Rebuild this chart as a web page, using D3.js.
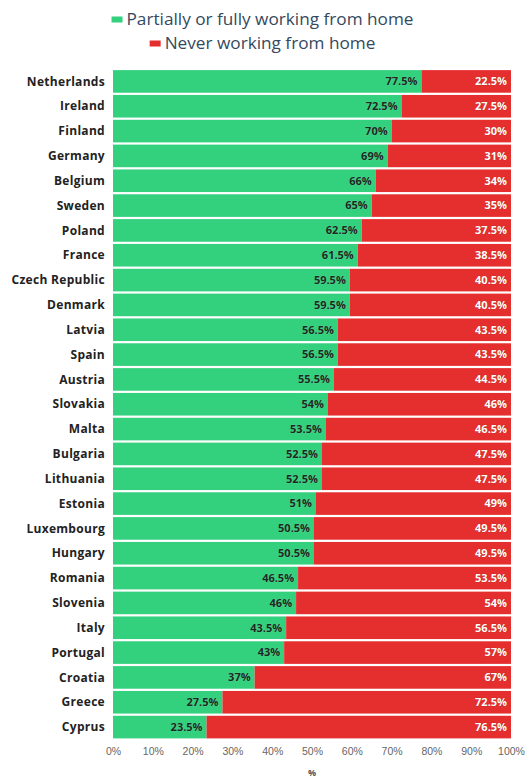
<!DOCTYPE html>
<html>
<head>
<meta charset="utf-8">
<script src="https://cdn.jsdelivr.net/npm/d3@7"></script>
<style>
  html, body { margin: 0; padding: 0; background: #fff; }
  svg { display: block; font-family: "Open Sans", "DejaVu Sans", sans-serif; }
</style>
</head>
<body>
<svg id="chart" width="525" height="781"></svg>
<script>
// Share of employees by home-working status, per country (values in %)
const countries = ["Netherlands","Ireland","Finland","Germany","Belgium","Sweden","Poland","France",
  "Czech Republic","Denmark","Latvia","Spain","Austria","Slovakia","Malta","Bulgaria","Lithuania",
  "Estonia","Luxembourg","Hungary","Romania","Slovenia","Italy","Portugal","Croatia","Greece","Cyprus"];
const homeWorking = [77.5,72.5,70,69,66,65,62.5,61.5,59.5,59.5,56.5,56.5,55.5,54,53.5,52.5,52.5,
  51,50.5,50.5,46.5,46,43.5,43,37,27.5,23.5];
const neverHome = [22.5,27.5,30,31,34,35,37.5,38.5,40.5,40.5,43.5,43.5,44.5,46,46.5,47.5,47.5,
  49,49.5,49.5,53.5,54,56.5,57,67,72.5,76.5];
const seriesNames = ["Partially or fully working from home", "Never working from home"];
const tickLabels = [0,10,20,30,40,50,60,70,80,90,100];
const axisTitle = "%";

const colors = ["#33d07e", "#e52f2f"];

const svg = d3.select("#chart");
const margin = { left: 113, right: 14, top: 69, bottom: 42 };
const W = 525, H = 781;

const rows = countries.map((c, i) => ({ country: c, home: homeWorking[i], never: neverHome[i] }));

// percent stacking: each bar is normalised to its own total
const stack = d3.stack().keys(["home", "never"]).offset(d3.stackOffsetExpand);
const layers = stack(rows);

const x = d3.scaleLinear().domain([0, 1]).range([margin.left, 511]);
const y = d3.scaleBand().domain(countries).range([margin.top, 739.5]).paddingInner(0.09).paddingOuter(0.045);

// bars
const g = svg.append("g");
layers.forEach((layer, li) => {
  g.append("g").selectAll("rect").data(layer).join("rect")
    .attr("x", d => x(d[0]))
    .attr("y", d => y(d.data.country))
    .attr("width", d => x(d[1]) - x(d[0]))
    .attr("height", y.bandwidth())
    .attr("fill", colors[li]);
});

// data labels
const fmt = v => v + "%";
layers.forEach((layer, li) => {
  const key = li === 0 ? "home" : "never";
  g.append("g").selectAll("text").data(layer).join("text")
    .attr("x", d => x(d[1]) - 4)
    .attr("y", d => y(d.data.country) + y.bandwidth() / 2)
    .attr("dy", "0.35em")
    .attr("text-anchor", "end")
    .attr("font-size", 11)
    .attr("font-weight", 700)
    .attr("fill", li === 0 ? "#1b2a1f" : "#ffffff")
    .attr("stroke", li === 0 ? "rgba(255,255,255,0.25)" : "rgba(80,0,0,0.35)")
    .attr("stroke-width", 0.6)
    .attr("paint-order", "stroke")
    .text(d => fmt(d.data[key]));
});

// category labels
svg.append("g").selectAll("text").data(countries).join("text")
  .attr("x", 105)
  .attr("y", d => y(d) + y.bandwidth() / 2)
  .attr("dy", "0.35em")
  .attr("text-anchor", "end")
  .attr("font-size", 12)
  .attr("font-weight", 700)
  .attr("letter-spacing", 0.3)
  .attr("fill", "#222")
  .text(d => d);

// x axis
const xAxis = d3.axisBottom(d3.scaleLinear().domain([0, 100]).range([margin.left, 511]))
  .tickValues(tickLabels).tickFormat(d => d + "%").tickSize(0).tickPadding(0);
const ax = svg.append("g").attr("transform", "translate(0,748)").call(xAxis);
ax.select(".domain").remove();
ax.selectAll("text").attr("font-size", 10.5).attr("fill", "#666").attr("font-family", "inherit");

svg.append("text")
  .attr("x", (margin.left + 511) / 2).attr("y", 776)
  .attr("text-anchor", "middle").attr("font-size", 9).attr("font-weight", 700).attr("fill", "#555")
  .text(axisTitle);

// legend
const legend = svg.append("g");
const legendY = [19, 43];
seriesNames.forEach((name, i) => {
  const item = legend.append("g");
  const t = item.append("text")
    .attr("x", 15).attr("y", legendY[i]).attr("dy", "0.35em")
    .attr("font-size", 17.2).attr("fill", "#34495e")
    .text(name);
  item.append("rect").attr("x", 0).attr("y", legendY[i] - 2.5).attr("width", 11).attr("height", 6)
    .attr("fill", colors[i]);
  const w = 15 + t.node().getComputedTextLength();
  item.attr("transform", `translate(${(W - w) / 2}, 0)`);
});
</script>
</body>
</html>
